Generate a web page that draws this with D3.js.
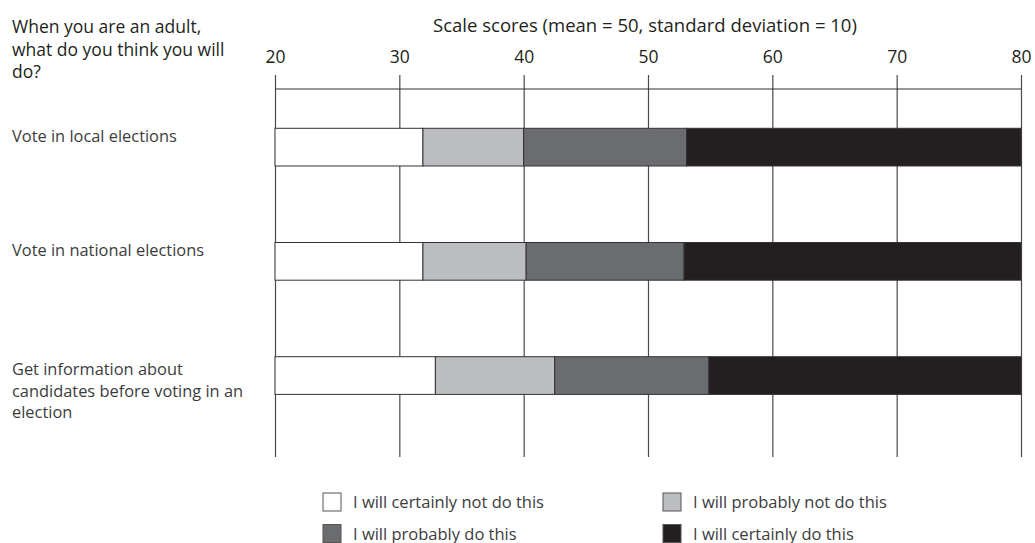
<!DOCTYPE html>
<html>
<head>
<meta charset="utf-8">
<script src="https://cdn.jsdelivr.net/npm/d3@7"></script>
<style>
  body { margin: 0; background: #fff; }
  svg { font-family: "Open Sans", sans-serif; }
  .grid line { stroke: #4a4a4a; stroke-width: 1.2; }
  .seg { stroke: #333; stroke-width: 1; }
</style>
</head>
<body>
<svg id="chart" width="1035" height="543"></svg>
<script>
// categories (wrapped as in the original)
const categories = [
  ["Vote in local elections"],
  ["Vote in national elections"],
  ["Get information about", "candidates before voting in an", "election"]
];

// cut points on the scale, left to right
const cut1 = [31.9, 31.9, 32.9];   // certainly not -> probably not
const cut2 = [40.0, 40.2, 42.5];   // probably not -> probably
const cut3 = [53.1, 52.9, 54.9];   // probably -> certainly

const scaleMin = 20, scaleMax = 80;
const tickValues = [20, 30, 40, 50, 60, 70, 80];

const legendLabels = [
  "I will certainly not do this",
  "I will probably not do this",
  "I will probably do this",
  "I will certainly do this"
];
const colors = ["#ffffff", "#bcbdc0", "#6b6c70", "#231f20"];

const header = ["When you are an adult,", "what do you think you will", "do?"];
const axisTitle = "Scale scores (mean = 50, standard deviation = 10)";

const svg = d3.select("#chart");

const x = d3.scaleLinear().domain([scaleMin, scaleMax]).range([275, 1021]);
const y = d3.scaleBand().domain(d3.range(categories.length))
  .range([128.3, 394.4]).paddingInner(0.67);

// gridlines + tick labels
const gridTop = 75, gridBottom = 457;
const axis = svg.append("g")
  .attr("class", "grid")
  .attr("transform", `translate(0,${gridTop})`)
  .call(d3.axisTop(x).tickValues(tickValues).tickSize(-(gridBottom - gridTop)).tickPadding(12));
axis.select(".domain").remove();
axis.selectAll("text")
  .attr("fill", "#231f20")
  .style("font-size", "17.5px")
  .style("font-family", "'Open Sans', sans-serif");

// top rule
svg.append("line")
  .attr("x1", x(scaleMin)).attr("x2", x(scaleMax))
  .attr("y1", 89).attr("y2", 89)
  .attr("stroke", "#333").attr("stroke-width", 1.2);

// axis title
svg.append("text")
  .attr("x", (x(scaleMin) + x(scaleMax)) / 2 - 3)
  .attr("y", 31.5)
  .attr("text-anchor", "middle")
  .attr("fill", "#231f20")
  .style("font-size", "18.5px")
  .text(axisTitle);

// header
svg.append("text")
  .attr("x", 12).attr("y", 33)
  .attr("fill", "#231f20")
  .style("font-size", "17.5px")
  .selectAll("tspan")
  .data(header)
  .enter()
  .append("tspan")
  .attr("x", 12)
  .attr("dy", (d, i) => i === 0 ? 0 : 22.5)
  .text(d => d);

// stacked segments
const segs = [];
categories.forEach((c, i) => {
  const bounds = [scaleMin, cut1[i], cut2[i], cut3[i], scaleMax];
  for (let k = 0; k < 4; k++) {
    segs.push({ row: i, k: k, x0: bounds[k], x1: bounds[k + 1] });
  }
});

svg.selectAll(".seg")
  .data(segs)
  .enter()
  .append("rect")
  .attr("class", "seg")
  .attr("x", d => x(d.x0))
  .attr("y", d => y(d.row))
  .attr("width", d => x(d.x1) - x(d.x0))
  .attr("height", y.bandwidth())
  .attr("fill", d => colors[d.k]);

// category labels
svg.selectAll(".cat")
  .data(categories)
  .enter()
  .append("text")
  .attr("class", "cat")
  .attr("fill", "#3c3c3c")
  .style("font-size", "16.4px")
  .attr("y", (d, i) => y(i) + (d.length > 1 ? 18.3 : 13.4))
  .each(function(d) {
    d3.select(this).selectAll("tspan")
      .data(d)
      .enter()
      .append("tspan")
      .attr("x", 12)
      .attr("dy", (t, j) => j === 0 ? 0 : 21.7)
      .text(t => t);
  });

// legend (2 columns x 2 rows)
const legX = [323, 663], legY = [493, 524.5];
const leg = svg.selectAll(".leg")
  .data(legendLabels)
  .enter()
  .append("g")
  .attr("class", "leg")
  .attr("transform", (d, i) => `translate(${legX[i % 2]},${legY[Math.floor(i / 2)]})`);

leg.append("rect")
  .attr("width", 18).attr("height", 18)
  .attr("fill", (d, i) => colors[i])
  .attr("stroke", "#555").attr("stroke-width", 1);

leg.append("text")
  .attr("x", 30).attr("y", 15)
  .attr("fill", "#3c3c3c")
  .style("font-size", "16.5px")
  .text(d => d);
</script>
</body>
</html>
